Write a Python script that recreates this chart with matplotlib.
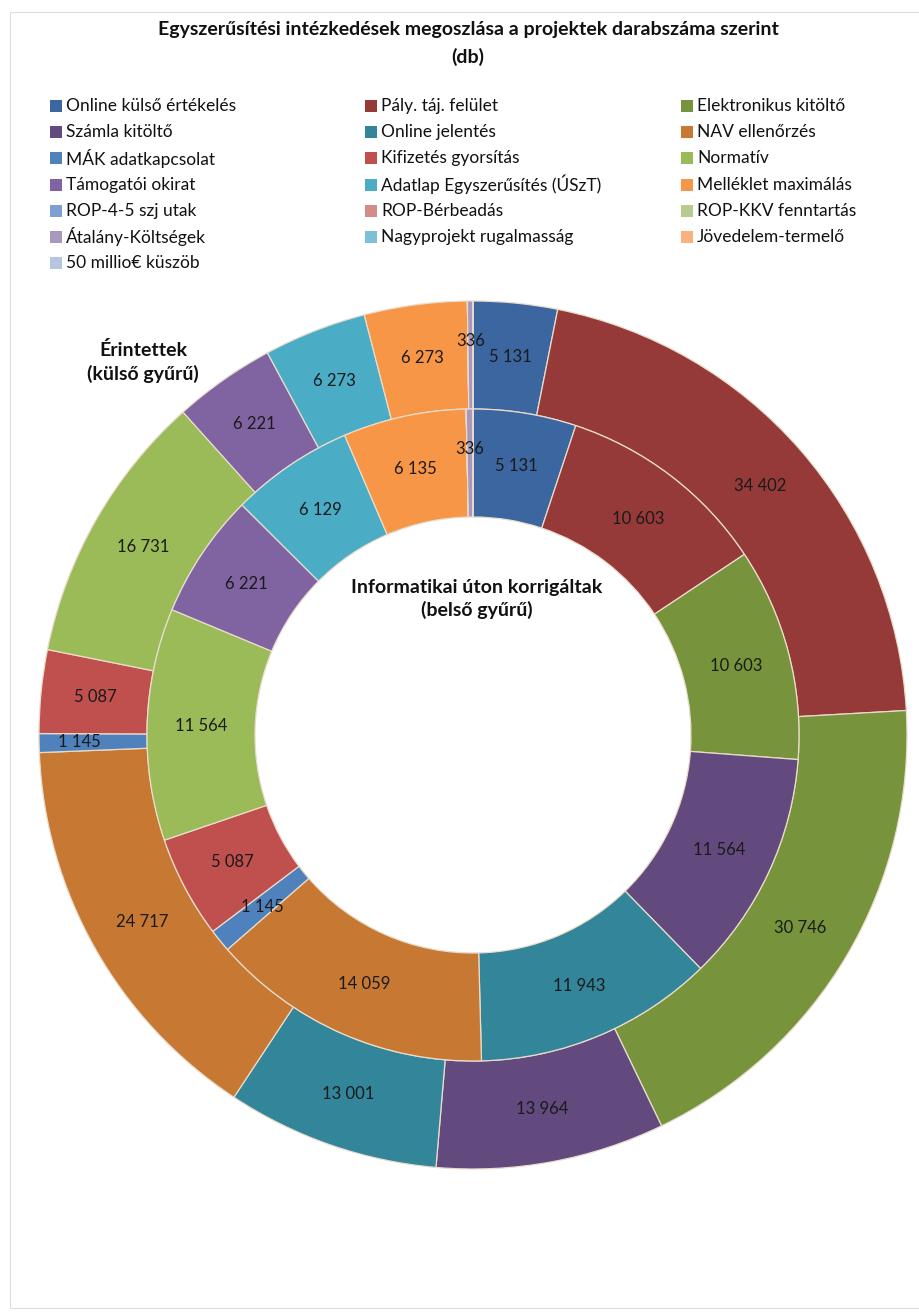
import matplotlib
matplotlib.use("Agg")
import matplotlib.pyplot as plt
import numpy as np
from matplotlib.patches import Rectangle

plt.rcParams["font.family"] = ["Lato", "DejaVu Sans"]

# categories, in the order the rings are drawn (clockwise from 12 o'clock)
categories = [
    "Online külső értékelés", "Pály. táj. felület", "Elektronikus kitöltő",
    "Számla kitöltő", "Online jelentés", "NAV ellenőrzés",
    "MÁK adatkapcsolat", "Kifizetés gyorsítás", "Normatív",
    "Támogatói okirat", "Adatlap Egyszerűsítés (ÚSzT)", "Melléklet maximálás",
    "ROP-4-5 szj utak", "ROP-Bérbeadás", "ROP-KKV fenntartás",
    "Átalány-Költségek", "Nagyprojekt rugalmasság", "Jövedelem-termelő",
    "50 millio€ küszöb",
]
# outer ring: Érintettek
affected = [5131, 34402, 30746, 13964, 13001, 24717, 1145, 5087, 16731,
            6221, 6273, 6273, 0, 0, 0, 336, 0, 0, 0]
# inner ring: Informatikai úton korrigáltak
corrected = [5131, 10603, 10603, 11564, 11943, 14059, 1145, 5087, 11564,
             6221, 6129, 6135, 0, 0, 0, 336, 0, 0, 0]

colors = [
    "#3B66A0", "#953A38", "#77933C", "#634A7E", "#33859A", "#C77833",
    "#4F81BD", "#C0504D", "#9BBB59", "#8064A2", "#4BACC6", "#F79646",
    "#7F9FD3", "#D38C8A", "#B5CC8E", "#A897BE", "#7CC0D5", "#F9B27E",
    "#B7C5E0",
]

W, H = 920, 1314
fig = plt.figure(figsize=(W / 100, H / 100), dpi=100)
ax = fig.add_axes([0, 0, 1, 1])

cx, cy = 473, H - 735
r_out, r_mid, r_hole = 434, 326, 218
edge = dict(edgecolor="#E9DCCB", linewidth=0.9)


def fmt(v):
    return f"{v:,}".replace(",", " ")


def ring(values, radius, width):
    wedges, _ = ax.pie(values, colors=colors, radius=radius, center=(cx, cy),
                       startangle=90, counterclock=False,
                       wedgeprops=dict(width=width, **edge))
    total = sum(values)
    for w, v in zip(wedges, values):
        if v <= 0:
            continue
        ang = np.deg2rad((w.theta1 + w.theta2) / 2)
        rr = w.r - w.width / 2
        if v / total < 0.01:  # tiny slice: label pushed a bit outward
            rr += 14
        ax.text(cx + rr * np.cos(ang), cy + rr * np.sin(ang), fmt(v),
                ha="center", va="center", fontsize=12, color="#1a1a1a")


ring(affected, r_out, r_out - r_mid)
ring(corrected, r_mid, r_mid - r_hole)

ax.set_xlim(0, W)
ax.set_ylim(0, H)
ax.set_aspect("auto")
ax.axis("off")

# light frame of the chart area
ax.add_patch(Rectangle((10, 6), W, H - 18, fill=False, edgecolor="#DDDDDD",
                       linewidth=0.8))

# title
ax.text(468, H - 30, "Egyszerűsítési intézkedések megoszlása a projektek darabszáma szerint",
        ha="center", va="center", fontsize=14, fontweight="bold", color="#111111")
ax.text(468, H - 57, "(db)", ha="center", va="center", fontsize=14,
        fontweight="bold", color="#111111")

# legend, row by row in three columns
col_x = [50, 365, 681]
row_y0, row_step = 106, 26.2
for i, (name, c) in enumerate(zip(categories, colors)):
    row, col = divmod(i, 3)
    x = col_x[col]
    y = H - (row_y0 + row * row_step)
    ax.add_patch(Rectangle((x, y - 6), 12, 12, facecolor=c, edgecolor="none"))
    ax.text(x + 16, y, name, ha="left", va="center", fontsize=12.5, color="#111111")

# ring captions
ax.text(143, H - 362, "Érintettek\n(külső gyűrű)", ha="center", va="center",
        fontsize=14, fontweight="bold", color="#111111", linespacing=1.35)
ax.text(477, H - 599, "Informatikai úton korrigáltak\n(belső gyűrű)", ha="center",
        va="center", fontsize=14, fontweight="bold", color="#111111", linespacing=1.35)

fig.savefig("out.png", dpi=100)
